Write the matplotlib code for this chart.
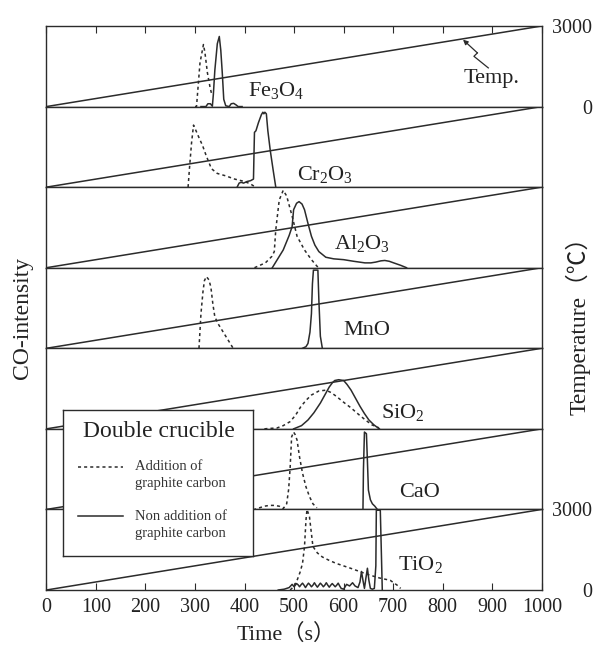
import matplotlib
matplotlib.use("Agg")
import matplotlib.pyplot as plt

plt.rcParams['font.family'] = ['Liberation Serif', 'Noto Sans CJK JP']
plt.rcParams['mathtext.fontset'] = 'custom'
plt.rcParams['mathtext.rm'] = 'Liberation Serif'
plt.rcParams['mathtext.it'] = 'Liberation Serif:italic'
plt.rcParams['mathtext.default'] = 'regular'

# temperature ramp (same in every panel)
temp_time = [0, 1000]
temp_val = [0, 3000]
temp_ticks = [0, 3000]
time_ticks = [0, 100, 200, 300, 400, 500, 600, 700, 800, 900, 1000]

compounds = ['Fe$_3$O$_4$', 'Cr$_2$O$_3$', 'Al$_2$O$_3$', 'MnO', 'SiO$_2$', 'CaO', 'TiO$_2$']

# CO intensity (normalised to panel height), dotted = addition of graphite carbon
fe_dot_t = [300, 303, 310, 317, 320, 325, 330, 333]
fe_dot_i = [0, 0, 0.54, 0.77, 0.67, 0.42, 0.25, 0.17]
fe_sol_t = [312, 322, 326, 331, 335, 337, 340, 345, 349, 352, 355, 358, 362, 369, 373, 378, 383, 387, 395]
fe_sol_i = [0, 0, 0.035, 0.035, 0.005, 0.15, 0.45, 0.78, 0.87, 0.7, 0.42, 0.09, 0.01, 0, 0.035, 0.04, 0.02, 0, 0]

cr_dot_t = [286, 289, 293, 297, 302, 309, 315, 322, 333, 345, 362, 380, 400, 412, 422]
cr_dot_i = [0, 0.25, 0.55, 0.77, 0.7, 0.6, 0.52, 0.4, 0.23, 0.17, 0.14, 0.1, 0.07, 0.04, 0]
cr_sol_t = [385, 389, 393, 398, 405, 412, 418, 419, 420, 423, 428, 434, 437, 439, 441, 444, 447, 452, 458, 463]
cr_sol_i = [0, 0.05, 0.06, 0.05, 0.07, 0.08, 0.1, 0.4, 0.68, 0.7, 0.8, 0.9, 0.93, 0.91, 0.93, 0.91, 0.7, 0.45, 0.2, 0]

al_dot_t = [420, 442, 455, 460, 463, 470, 478, 485, 496, 506, 521, 535, 546, 550]
al_dot_i = [0, 0.06, 0.14, 0.2, 0.47, 0.84, 0.96, 0.89, 0.64, 0.39, 0.22, 0.1, 0.02, 0]
al_sol_t = [456, 478, 490, 496, 499, 505, 510, 516, 521, 528, 535, 542, 550, 564, 580, 600, 620, 643, 655, 665, 675, 683, 692, 701, 715, 727]
al_sol_i = [0, 0.22, 0.4, 0.51, 0.72, 0.8, 0.82, 0.79, 0.72, 0.55, 0.39, 0.28, 0.2, 0.13, 0.11, 0.1, 0.08, 0.06, 0.06, 0.07, 0.085, 0.09, 0.08, 0.06, 0.03, 0]

mn_dot_t = [308, 312, 316, 319, 323, 328, 332, 336, 340, 347, 355, 365, 377]
mn_dot_i = [0, 0.43, 0.7, 0.84, 0.89, 0.85, 0.76, 0.55, 0.39, 0.3, 0.22, 0.12, 0]
mn_sol_t = [517, 524, 528, 532, 535, 537, 539, 548, 550, 553, 557]
mn_sol_i = [0, 0.02, 0.06, 0.2, 0.43, 0.8, 0.97, 0.97, 0.6, 0.15, 0]

si_dot_t = [440, 449, 465, 478, 492, 503, 514, 525, 535, 550, 564, 575, 586, 600, 615, 630, 644, 657, 669, 672]
si_dot_i = [0, 0.005, 0.01, 0.04, 0.09, 0.17, 0.28, 0.36, 0.42, 0.47, 0.48, 0.45, 0.4, 0.33, 0.26, 0.18, 0.11, 0.05, 0.02, 0]
si_sol_t = [499, 515, 528, 540, 553, 562, 571, 577, 582, 590, 600, 607, 615, 624, 633, 642, 651, 661, 672]
si_sol_i = [0, 0.04, 0.11, 0.2, 0.32, 0.42, 0.52, 0.57, 0.6, 0.61, 0.6, 0.55, 0.48, 0.38, 0.28, 0.19, 0.11, 0.05, 0]

ca_dot_t = [405, 420, 430, 440, 450, 460, 470, 478, 485, 489, 492, 495, 499, 502, 506, 511, 517, 524, 531, 538, 546]
ca_dot_i = [0, 0, 0.02, 0.04, 0.05, 0.05, 0.04, 0.01, 0.07, 0.25, 0.52, 0.9, 0.96, 0.93, 0.86, 0.65, 0.45, 0.28, 0.16, 0.07, 0.02]
ca_sol_t = [639, 640, 642, 646, 648, 650, 654, 658, 663, 668]
ca_sol_i = [0, 0.5, 0.96, 0.94, 0.6, 0.24, 0.12, 0.07, 0.04, 0]

ti_dot_t = [492, 499, 506, 512, 517, 521, 524, 526, 531, 538, 547, 557, 570, 585, 614, 650, 672, 694, 708, 715]
ti_dot_i = [0, 0.04, 0.12, 0.22, 0.33, 0.54, 0.87, 1.0, 0.91, 0.54, 0.46, 0.41, 0.37, 0.33, 0.27, 0.19, 0.15, 0.12, 0.06, 0.02]
ti_sol_t = [468, 480, 490, 496, 500, 505, 508, 511, 514, 517, 520, 523, 526, 529, 532, 535, 538, 541, 544, 547, 550, 553,
            556, 559, 562, 565, 568, 571, 574, 577, 580, 583, 586, 589, 592, 595, 600, 606, 612, 618, 623, 629,
            633, 636, 639, 642, 645, 648, 651, 654, 658, 662, 665, 666, 674, 676, 678]
ti_sol_i = [0, 0.01, 0.03, 0.07, 0.04, 0.08, 0.065, 0.04, 0.065, 0.085, 0.06, 0.03, 0.06, 0.085, 0.065, 0.04, 0.06, 0.09, 0.06, 0.035, 0.06, 0.085,
            0.065, 0.04, 0.06, 0.09, 0.06, 0.035, 0.06, 0.08, 0.06, 0.04, 0.06, 0.085, 0.05, 0.02, 0.01, 0.07, 0.05, 0.09, 0.05, 0.03,
            0.1, 0.23, 0.12, 0.02, 0.15, 0.27, 0.12, 0.02, 0.01, 0.02, 0.3, 0.99, 0.99, 0.5, 0]

dotted = [(fe_dot_t, fe_dot_i), (cr_dot_t, cr_dot_i), (al_dot_t, al_dot_i), (mn_dot_t, mn_dot_i),
          (si_dot_t, si_dot_i), (ca_dot_t, ca_dot_i), (ti_dot_t, ti_dot_i)]
solid = [(fe_sol_t, fe_sol_i), (cr_sol_t, cr_sol_i), (al_sol_t, al_sol_i), (mn_sol_t, mn_sol_i),
         (si_sol_t, si_sol_i), (ca_sol_t, ca_sol_i), (ti_sol_t, ti_sol_i)]

# where the compound name sits in each panel (time, fraction of panel)
label_pos = [(464, 0.20), (562, 0.16), (637, 0.30), (647, 0.22), (719, 0.205), (753, 0.215), (755, 0.32)]

W, H = 595, 648
col = '#2b2b2b'
dot_ls = (0, (2, 2))

fig = plt.figure(figsize=(W / 100, H / 100), dpi=100)
left, right = 46.4 / W, 541.8 / W
top, bottom = 1 - 26 / H, 1 - 590 / H
h = (top - bottom) / 7

for i in range(7):
    ax = fig.add_axes([left, top - (i + 1) * h, right - left, h])
    ax.set_xlim(0, 1000)
    ax.set_ylim(0, 1)
    ax.set_yticks([])
    ax.set_xticks(time_ticks)
    for s in ax.spines.values():
        s.set_color(col)
        s.set_linewidth(1.0)
    ax.tick_params(axis='x', direction='in', length=0, labelbottom=False, color=col)
    if i == 0:
        ax.tick_params(axis='x', top=True, bottom=False, length=5)
    if i == 6:
        ax.tick_params(axis='x', bottom=True, length=5, labelbottom=True,
                       labelsize=14.5, pad=6, labelcolor='#222222')

    ax.plot(*dotted[i], color=col, lw=1.1, ls=dot_ls)
    ax.plot(*solid[i], color=col, lw=1.1)
    ax.text(label_pos[i][0], label_pos[i][1], compounds[i], fontsize=16,
            ha='center', va='center', color='#222222')

    ax2 = ax.twinx()
    ax2.set_ylim(0, 3000)
    ax2.plot(temp_time, temp_val, color=col, lw=1.1)
    if i in (0, 6):
        ax2.set_yticks(temp_ticks)
        ax2.set_yticklabels([str(v) for v in temp_ticks])
        ax2.tick_params(axis='y', length=0, pad=36, labelsize=14.5, labelcolor='#222222')
        for lab in ax2.get_yticklabels():
            lab.set_ha('right')
    else:
        ax2.set_yticks([])
    for s in ax2.spines.values():
        s.set_visible(False)

    if i == 0:
        # "Temp." pointer
        ax.annotate('', xy=(841, 0.83), xytext=(870, 0.666),
                    arrowprops=dict(arrowstyle='-|>', color=col, lw=0.9,
                                    mutation_scale=7, shrinkA=0, shrinkB=0))
        ax.plot([870, 863, 892], [0.666, 0.624, 0.48], color=col, lw=0.9)
        ax.text(899, 0.35, 'Temp.', fontsize=16, ha='center', va='center', color='#222222')

fig.text(286 / W, 1 - 634 / H, 'Time（s）', fontsize=16, ha='center', va='center', color='#222222')
fig.text(22 / W, 1 - 318 / H, 'CO-intensity', fontsize=17, rotation=90,
         ha='center', va='center', color='#222222')
fig.text(578 / W, 1 - 320 / H, 'Temperature（℃）', fontsize=17, rotation=90,
         ha='center', va='center', color='#222222')

# legend box drawn by hand (pixel coordinates inside the box)
x0, x1, y0, y1 = 63.2, 253.2, 410, 556
leg = fig.add_axes([x0 / W, 1 - y1 / H, (x1 - x0) / W, (y1 - y0) / H])
leg.set_xlim(x0, x1)
leg.set_ylim(y1, y0)
leg.set_xticks([])
leg.set_yticks([])
leg.set_facecolor('white')
for s in leg.spines.values():
    s.set_color(col)
    s.set_linewidth(1.0)
leg.text(159.3, 431.7, 'Double crucible', fontsize=17, ha='center', va='center', color='#222222')
leg.plot([77.5, 122.8], [467, 467], color=col, lw=1.1, ls=dot_ls)
leg.text(134.6, 467, 'Addition of', fontsize=10.5, va='center', color='#333333')
leg.text(134.6, 484, 'graphite carbon', fontsize=10.5, va='center', color='#333333')
leg.plot([77.5, 122.8], [516, 516], color=col, lw=1.1)
leg.text(134.6, 516, 'Non addition of', fontsize=10.5, va='center', color='#333333')
leg.text(134.6, 534, 'graphite carbon', fontsize=10.5, va='center', color='#333333')

fig.savefig('out.png', dpi=100)
